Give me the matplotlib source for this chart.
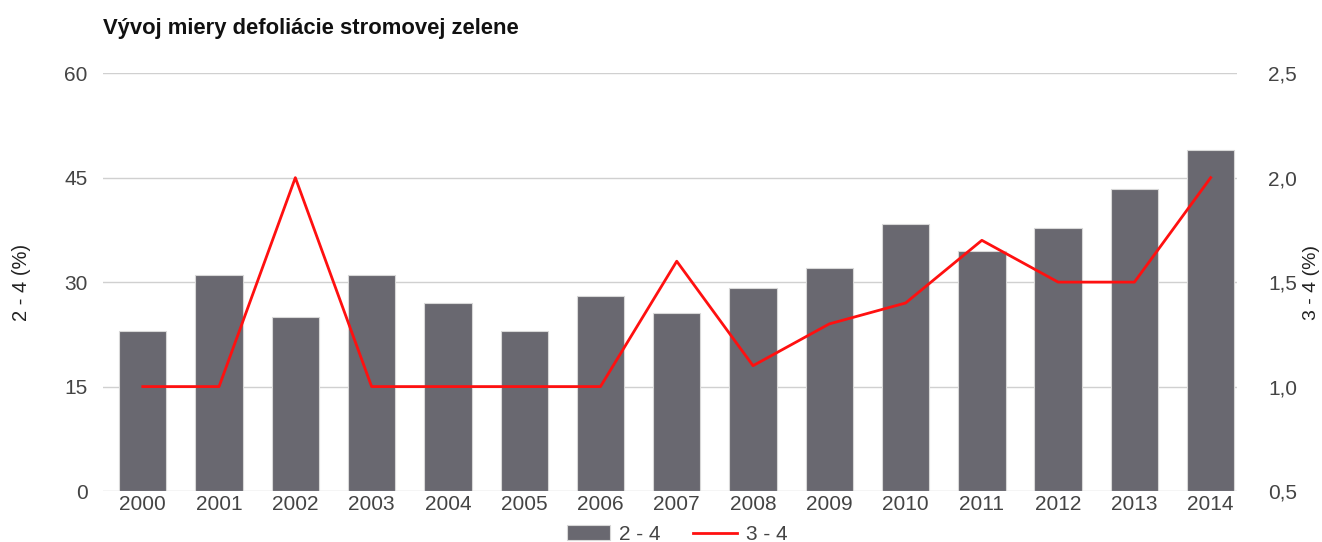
import numpy as np
import matplotlib.pyplot as plt
from matplotlib.ticker import FuncFormatter

plt.rcParams['font.family'] = ['Liberation Sans', 'DejaVu Sans']

years = ['2000', '2001', '2002', '2003', '2004', '2005', '2006', '2007',
         '2008', '2009', '2010', '2011', '2012', '2013', '2014']
defol_2_4 = [23, 31, 25, 31, 27, 23, 28, 25.5, 29.2, 32, 38.4, 34.5, 37.8, 43.4, 49]
defol_3_4 = [1.0, 1.0, 2.0, 1.0, 1.0, 1.0, 1.0, 1.6, 1.1, 1.3, 1.4, 1.7, 1.5, 1.5, 2.0]

fig = plt.figure(figsize=(13.22, 5.42), dpi=100)
ax = fig.add_axes([0.078, 0.094, 0.858, 0.771])
ax2 = ax.twinx()

x = np.arange(len(years))
bars = ax.bar(x, defol_2_4, width=0.62, color='#696870', edgecolor='#d8d8d8',
              linewidth=0.8, zorder=2, label='2 - 4')
line, = ax2.plot(x, defol_3_4, color='#ff1010', linewidth=2, zorder=3, label='3 - 4')

ax.set_xlim(-0.52, 14.35)
ax.set_ylim(0, 60)
ax.set_yticks([0, 15, 30, 45, 60])
ax2.set_ylim(0.5, 2.5)
ax2.set_yticks([0.5, 1.0, 1.5, 2.0, 2.5])
ax2.yaxis.set_major_formatter(FuncFormatter(lambda v, p: f'{v:.1f}'.replace('.', ',')))

ax.set_xticks(x)
ax.set_xticklabels(years)
ax.grid(axis='y', color='#d0d0d0', linewidth=1, zorder=0)
ax.set_axisbelow(True)

for a in (ax, ax2):
    for s in a.spines.values():
        s.set_visible(False)
    a.tick_params(axis='both', length=0, labelsize=15, labelcolor='#444444')
ax.tick_params(axis='y', pad=11)
ax2.tick_params(axis='y', pad=22)
ax.tick_params(axis='x', pad=3)

ax.set_ylabel('2 - 4 (%)', fontsize=14.5, color='#222222', labelpad=24)
ax2.set_ylabel('3 - 4 (%)', fontsize=14, color='#222222', labelpad=4)

fig.text(0.078, 0.948, 'Vývoj miery defoliácie stromovej zelene', fontsize=15.8,
         fontweight='bold', color='#111111', ha='left', va='center')

fig.legend(handles=[bars, line], loc='center', bbox_to_anchor=(0.512, 0.014),
           ncol=2, frameon=False, fontsize=15, handlelength=2.1, handletextpad=0.4,
           columnspacing=1.6, labelcolor='#444444')

fig.savefig('out.png', dpi=100)
